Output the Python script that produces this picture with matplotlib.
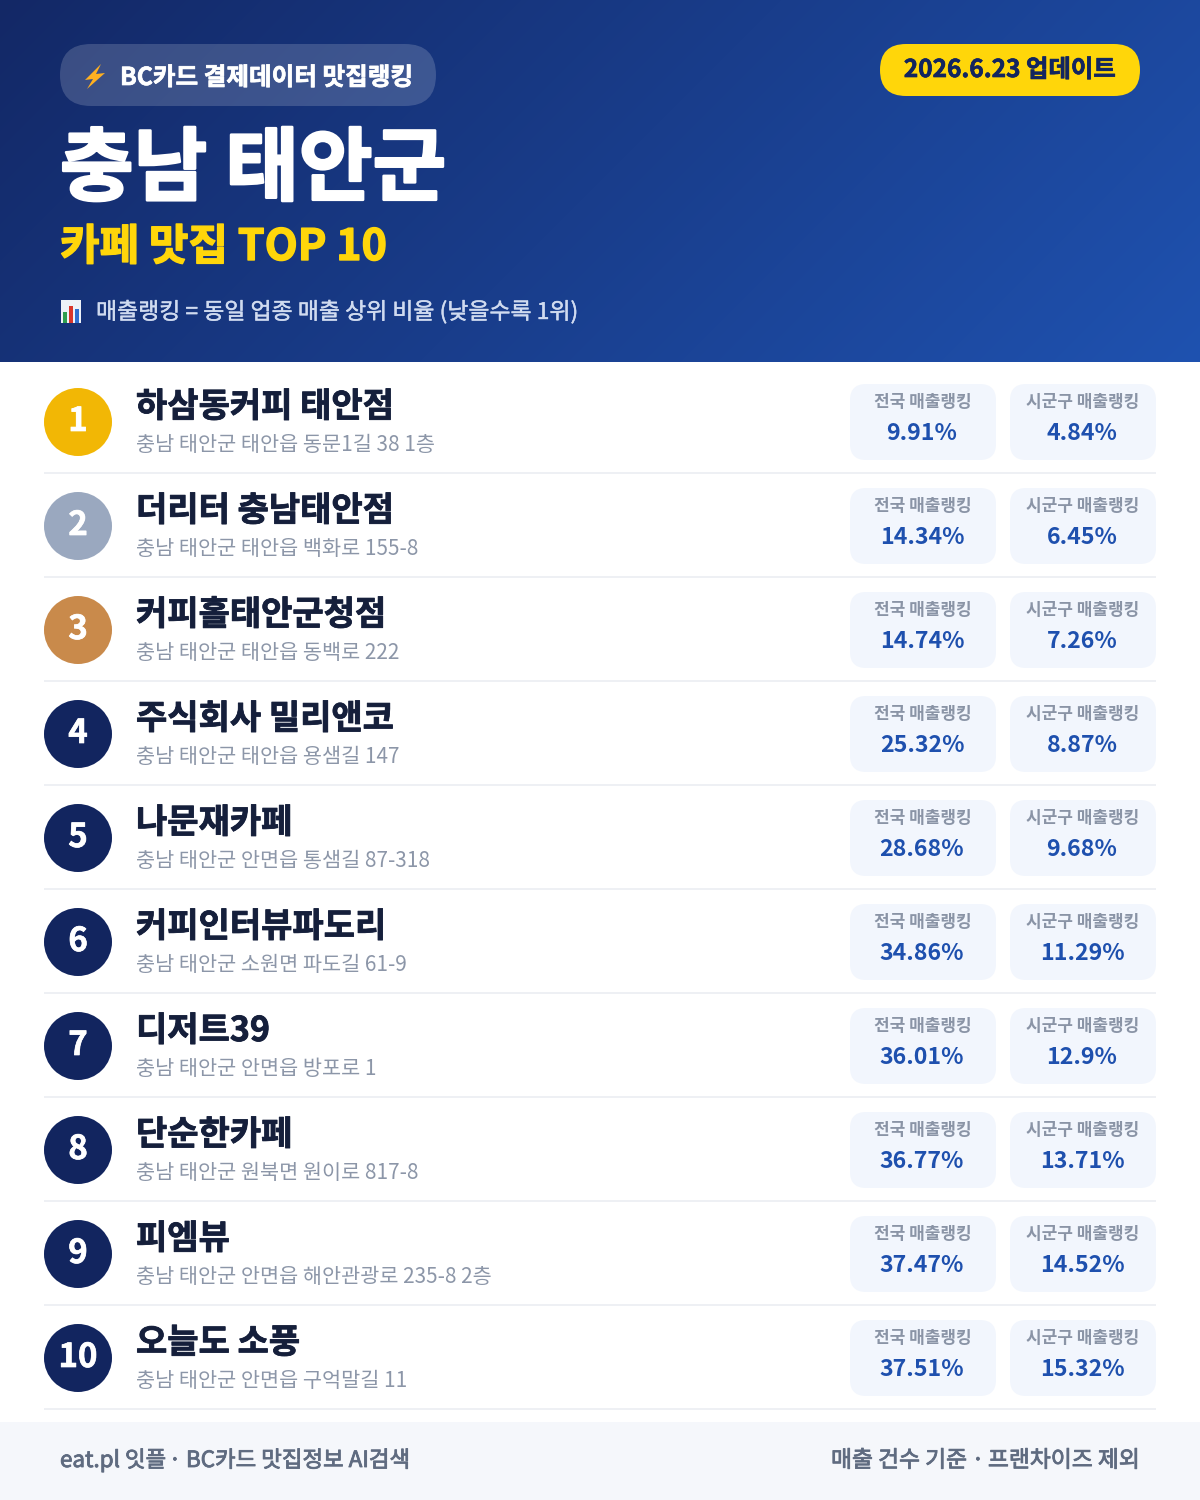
import numpy as np
import matplotlib
matplotlib.use('Agg')
import matplotlib.pyplot as plt
import matplotlib.patheffects as pe
from matplotlib.patches import Circle, FancyBboxPatch, Polygon, Rectangle

plt.rcParams['font.family'] = ['Noto Sans CJK KR', 'DejaVu Sans']

# data
names = ['하삼동커피 태안점', '더리터 충남태안점', '커피홀태안군청점', '주식회사 밀리앤코', '나문재카페',
         '커피인터뷰파도리', '디저트39', '단순한카페', '피엠뷰', '오늘도 소풍']
addresses = ['충남 태안군 태안읍 동문1길 38 1층', '충남 태안군 태안읍 백화로 155-8',
             '충남 태안군 태안읍 동백로 222', '충남 태안군 태안읍 용샘길 147',
             '충남 태안군 안면읍 통샘길 87-318', '충남 태안군 소원면 파도길 61-9',
             '충남 태안군 안면읍 방포로 1', '충남 태안군 원북면 원이로 817-8',
             '충남 태안군 안면읍 해안관광로 235-8 2층', '충남 태안군 안면읍 구억말길 11']
national = ['9.91%', '14.34%', '14.74%', '25.32%', '28.68%', '34.86%', '36.01%', '36.77%', '37.47%', '37.51%']
local = ['4.84%', '6.45%', '7.26%', '8.87%', '9.68%', '11.29%', '12.9%', '13.71%', '14.52%', '15.32%']
medal_colors = ['#f2b705', '#9aa8bf', '#c98a4b']
navy = '#12255f'

W, H = 1200, 1500
PX = 0.72  # px -> pt at dpi 100


def rbox(ax, x0, y0, x1, y1, r, **kw):
    ax.add_patch(FancyBboxPatch((x0 + r, y0 + r), x1 - x0 - 2 * r, y1 - y0 - 2 * r,
                                boxstyle=f'round,pad={r},rounding_size={r}', lw=0, **kw))


def txt(ax, x, y, s, px, color, weight='bold', ha='left', stroke=0):
    # only Regular and Bold are installed, so heavier weights get a thin outline
    t = ax.text(x, y, s, fontsize=px * PX, color=color, fontweight=weight, ha=ha, va='baseline')
    if stroke:
        t.set_path_effects([pe.withStroke(linewidth=stroke, foreground=color)])
    return t


fig = plt.figure(figsize=(12, 15), dpi=100, facecolor='white')
ax = fig.add_axes([0, 0, 1, 1])
ax.set_xlim(0, W)
ax.set_ylim(H, 0)
ax.axis('off')

# header gradient
header_h = 362
yy, xx = np.mgrid[0:header_h, 0:W]
t = (xx + yy * 1.0) / (W + header_h)
c0 = np.array([0x13, 0x28, 0x66]) / 255
c1 = np.array([0x1f, 0x52, 0xb0]) / 255
img = c0[None, None, :] + t[..., None] * (c1 - c0)[None, None, :]
ax.imshow(img, extent=(0, W, header_h, 0), aspect='auto', zorder=0)
ax.set_xlim(0, W)
ax.set_ylim(H, 0)

# pill + badge
rbox(ax, 60, 44, 436, 106, 31, facecolor='white', alpha=0.17, zorder=1)
ax.add_patch(Polygon([(101, 64), (85, 80), (93, 79), (87, 89), (105, 73), (96, 74)], facecolor='#ffb020', lw=0, zorder=2))
txt(ax, 120, 85, 'BC카드 결제데이터 맛집랭킹', 24.6, 'white', stroke=0.5)
rbox(ax, 880, 44, 1140, 96, 26, facecolor='#ffd60a', zorder=1)
txt(ax, 1010, 77, '2026.6.23 업데이트', 24.4, navy, ha='center', stroke=0.5)

txt(ax, 60, 194, '충남 태안군', 80, 'white', stroke=1.8)
txt(ax, 60, 260, '카페 맛집 TOP 10', 43, '#ffd60a', stroke=1)

# small bar-chart icon
ax.add_patch(Rectangle((61, 300), 20, 23, facecolor='#eef2f8', lw=0, zorder=2))
ax.add_patch(Rectangle((63, 312), 4, 11, facecolor='#2e9e4f', lw=0, zorder=3))
ax.add_patch(Rectangle((69, 306), 4, 17, facecolor='#d9362b', lw=0, zorder=3))
ax.add_patch(Rectangle((75, 309), 4, 14, facecolor='#2f6fd0', lw=0, zorder=3))
txt(ax, 96, 319, '매출랭킹 = 동일 업종 매출 상위 비율 (낮을수록 1위)', 22.9, '#d0dbf0', weight='normal', stroke=0.3)

# rows
pitch = 104
for i, name in enumerate(names):
    top = 362 + pitch * i
    col = medal_colors[i] if i < 3 else navy
    ax.add_patch(Circle((78, top + 60), 34, facecolor=col, lw=0))
    txt(ax, 78, top + 69, str(i + 1), 33, 'white', ha='center', stroke=0.5)
    txt(ax, 136, top + 55, name, 34, '#151f3b', stroke=0.6)
    txt(ax, 136, top + 89, addresses[i], 20.8, '#8c96a8', weight='normal')
    for x0, x1, label, val in [(850, 996, '전국 매출랭킹', national[i]), (1010, 1156, '시군구 매출랭킹', local[i])]:
        rbox(ax, x0, top + 22, x1, top + 98, 16, facecolor='#f2f6fd')
        cx = (x0 + x1) / 2
        txt(ax, cx, top + 45, label, 17, '#8a94a6', ha='center')
        txt(ax, cx - 1, top + 78, val, 23.2, '#1e50ae', ha='center')
    ax.add_patch(Rectangle((44, top + 110), 1112, 2, facecolor='#eef0f4', lw=0))

# footer
ax.add_patch(Rectangle((0, 1422), W, 78, facecolor='#f5f7fb', lw=0))
foot = '#5f6b80'
txt(ax, 60, 1467, 'eat.pl 잇플', 22.4, foot, weight='normal', stroke=0.6)
txt(ax, 175, 1467, '·', 22.4, foot, weight='normal', ha='center', stroke=0.6)
txt(ax, 186, 1467, 'BC카드 맛집정보 AI검색', 22.4, foot, weight='normal', stroke=0.6)
txt(ax, 831, 1467, '매출 건수 기준', 22.8, foot, weight='normal', stroke=0.6)
txt(ax, 978, 1467, '·', 22.8, foot, weight='normal', ha='center', stroke=0.6)
txt(ax, 1140, 1467, '프랜차이즈 제외', 22.8, foot, weight='normal', ha='right', stroke=0.6)

fig.savefig('out.png', dpi=100, facecolor='white')
